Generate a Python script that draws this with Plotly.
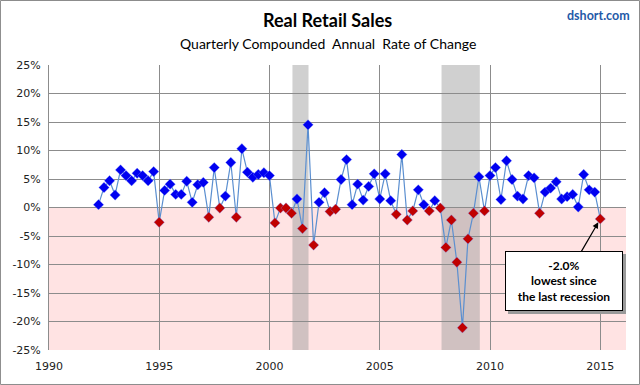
import pandas as pd
import plotly.graph_objects as go

# Quarterly compounded annual rate of change (%), quarters ending 1992 Q1 .. 2014 Q4
start_quarter = "1992-03-31"
values = [
    0.5, 3.5, 4.7, 2.2, 6.6, 5.6, 4.7, 6.0, 5.6, 4.7, 6.3, -2.6,
    3.0, 4.1, 2.3, 2.3, 4.6, 0.9, 4.0, 4.4, -1.7, 7.0, -0.1, 2.0,
    7.9, -1.7, 10.3, 6.2, 5.3, 5.8, 6.1, 5.6, -2.7, -0.1, -0.1, -1.0,
    1.5, -3.7, 14.5, -6.6, 0.9, 2.6, -0.7, -0.3, 4.9, 8.4, 0.5, 4.1,
    1.3, 3.7, 5.9, 1.5, 5.9, 1.2, -1.2, 9.3, -2.2, -0.6, 3.1, 0.5,
    -0.6, 1.2, -0.1, -7.0, -2.2, -9.6, -21.1, -5.5, -1.0, 5.4, -0.6, 5.6,
    7.0, 1.4, 8.2, 4.9, 2.0, 1.5, 5.6, 5.2, -1.0, 2.7, 3.4, 4.5,
    1.5, 1.9, 2.3, 0.1, 5.8, 3.1, 2.7, -2.0,
]
dates = pd.date_range(start_quarter, periods=len(values), freq="QE")

recessions = [("2001-01-15", "2001-10-08"), ("2007-10-20", "2009-07-15")]
y_ticks = [-25, -20, -15, -10, -5, 0, 5, 10, 15, 20, 25]
y_tick_labels = [f"{v}%" for v in y_ticks]
x_range = ["1990-01-01", "2016-03-01"]

title_text = "Real Retail Sales"
subtitle_text = "Quarterly Compounded  Annual  Rate of Change"
source_text = "dshort.com"
callout_text = "-2.0%<br>lowest since<br>the last recession"

marker_colors = ["#0000F0" if v >= 0 else "#C00000" for v in values]

fig = go.Figure()
fig.add_trace(go.Scatter(
    x=dates, y=values, mode="lines",
    line=dict(color="#5B8FD0", width=1.2),
    hoverinfo="skip", showlegend=False,
))
fig.add_trace(go.Scatter(
    x=dates, y=values, mode="markers",
    marker=dict(symbol="diamond", size=8, color=marker_colors,
                line=dict(width=0.6, color="rgba(120,140,255,0.6)")),
    showlegend=False,
))

shapes = [
    dict(type="rect", xref="paper", yref="y", x0=0, x1=1, y0=-25, y1=0,
         fillcolor="#FFE3E3", line=dict(width=0), layer="below"),
]
for a, b in recessions:
    shapes.append(dict(type="rect", xref="x", yref="paper", x0=a, x1=b, y0=0, y1=1,
                       fillcolor="rgba(150,150,150,0.45)", line=dict(width=0), layer="below"))
# outer frame
shapes.append(dict(type="rect", xref="paper", yref="paper",
                   x0=-0.0841, x1=1.0234, y0=-0.121, y1=1.2263,
                   line=dict(color="#8C8C8C", width=1), fillcolor="rgba(0,0,0,0)", layer="above"))

last_x = dates[-1]
last_y = values[-1]

annotations = [
    dict(text=f"<b>{title_text}</b>", xref="paper", yref="paper", x=0.4835, y=1.158,
         showarrow=False, font=dict(family="Lato", size=18, color="#000000"),
         xanchor="center", yanchor="middle"),
    dict(text=subtitle_text, xref="paper", yref="paper", x=0.4835, y=1.074,
         showarrow=False, font=dict(family="Lato", size=14, color="#000000"),
         xanchor="center", yanchor="middle"),
    dict(text=f"<b>{source_text}</b>", xref="paper", yref="paper", x=0.953, y=1.172,
         showarrow=False, font=dict(family="Lato", size=12.5, color="#1F5AA8"),
         xanchor="center", yanchor="middle"),
    # shadow of callout box
    dict(text="&nbsp;", x=last_x, y=last_y, ax=-33, ay=65, showarrow=True,
         arrowcolor="rgba(0,0,0,0)", bgcolor="#9A9A9A", bordercolor="#9A9A9A",
         borderwidth=1, width=112, height=54, borderpad=2,
         font=dict(family="Lato", size=12, color="#9A9A9A")),
    dict(text=f"<b>{callout_text}</b>", x=last_x, y=last_y, ax=-36, ay=62, showarrow=True,
         arrowhead=2, arrowsize=1, arrowwidth=1.2, arrowcolor="#000000",
         bgcolor="#FFFFFF", bordercolor="#000000", borderwidth=1,
         width=112, height=54, borderpad=2, standoff=4,
         font=dict(family="Lato", size=12, color="#000000")),
]

fig.update_layout(
    width=640, height=385,
    margin=dict(l=49, r=14, t=65, b=35),
    paper_bgcolor="#FFFFFF", plot_bgcolor="#FFFFFF",
    shapes=shapes, annotations=annotations,
    showlegend=False,
    font=dict(family="DejaVu Sans", size=11, color="#222222"),
)
fig.update_xaxes(
    type="date", range=x_range, tick0="1990-01-01", dtick="M60", tickformat="%Y",
    showgrid=True, gridcolor="#8C8C8C", gridwidth=1,
    showline=False, zeroline=False, ticks="", ticklen=0, ticklabelstandoff=8,
    tickfont=dict(family="DejaVu Sans", size=11, color="#222222"),
)
fig.update_yaxes(
    range=[-25, 25], tickvals=y_ticks, ticktext=y_tick_labels,
    showgrid=True, gridcolor="#8C8C8C", gridwidth=1,
    showline=True, linecolor="#8C8C8C", linewidth=1,
    zeroline=False, ticks="", ticklabelstandoff=5,
    tickfont=dict(family="DejaVu Sans", size=11, color="#222222"),
)

fig.write_html("out.html", config={"displayModeBar": False},
               post_script="document.body.style.margin='0';")
